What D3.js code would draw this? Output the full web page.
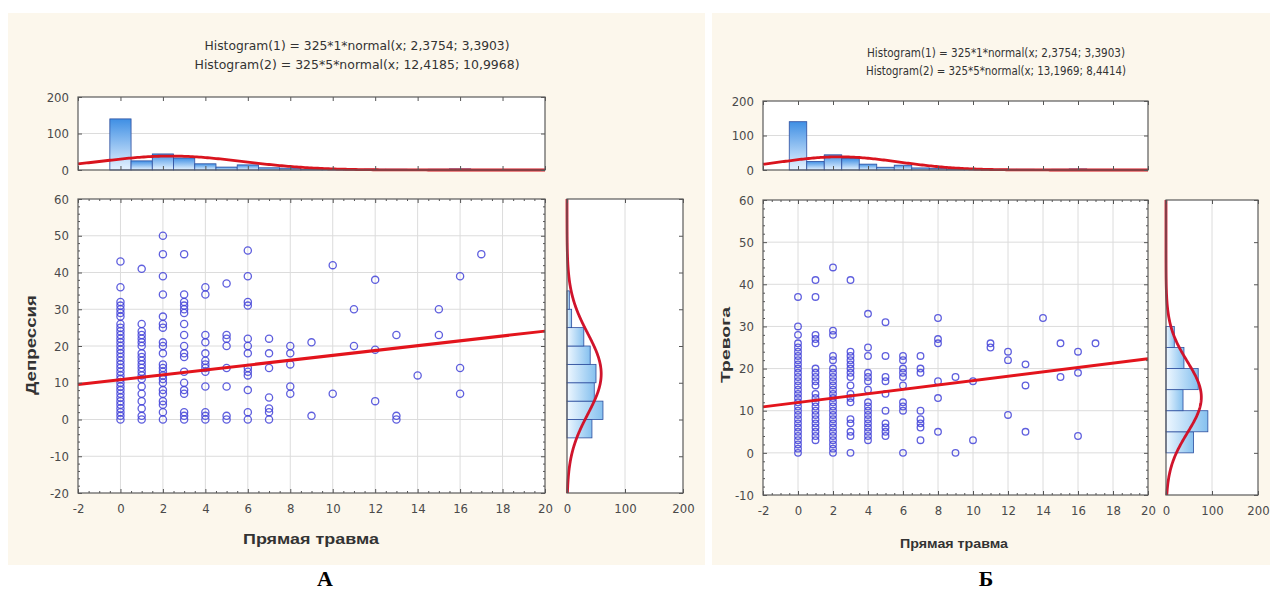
<!DOCTYPE html>
<html>
<head>
<meta charset="utf-8">
<script src="https://cdn.jsdelivr.net/npm/d3@7"></script>
<style>
  body { margin: 0; background: #ffffff; }
  svg { display: block; }
  .tick text { font-family: "Liberation Sans Narrow", "DejaVu Sans Condensed", "Liberation Sans", sans-serif; font-size: 13px; fill: #4a4a4a; }
  .tick line { stroke: #555; }
</style>
</head>
<body>
<svg id="chart" width="1273" height="593"></svg>
<script>
// ---- data ----------------------------------------------------------------
// Прямая травма: number of respondents for each score 0..17
const traumaScores = [0, 1, 2, 3, 4, 5, 6, 7, 8, 9, 10, 11, 12, 13, 14, 15, 16, 17];
const traumaCounts = [140, 25, 44, 33, 17, 8, 14, 6, 5, 1, 2, 1, 2, 2, 1, 2, 3, 1];

// Депрессия: histogram bins of width 5 (lower edges) and counts
const depressionBins = [-5, 0, 5, 10, 15, 20, 25, 30];
const depressionCounts = [43, 62, 47, 50, 40, 29, 8, 4];

// Тревога: histogram bins of width 5 (lower edges) and counts
const anxietyBins = [0, 5, 10, 15, 20, 25];
const anxietyCounts = [60, 91, 37, 70, 39, 18];

// Individual scores, grouped by Прямая травма value
const depressionByTrauma = [
  [0, [0,1,2,3,4,5,6,7,8,9,10,11,12,13,14,15,16,17,18,19,20,21,22,23,24,25,26,28,29,30,31,32,36,43]],
  [1, [0,1,3,5,7,9,11,12,13,14,15,16,17,18,20,21,22,23,24,26,41]],
  [2, [0,2,4,5,7,8,10,11,12,13,14,15,18,20,21,25,26,28,34,39,45,50]],
  [3, [0,1,2,7,8,10,13,17,18,20,23,26,29,30,31,32,34,45]],
  [4, [0,1,2,9,13,14,15,16,18,21,23,34,36]],
  [5, [0,1,9,14,20,22,23,37]],
  [6, [0,2,8,12,13,14,18,20,22,31,32,39,46]],
  [7, [0,2,3,6,14,18,22]],
  [8, [7,9,15,18,20]],
  [9, [1,21]],
  [10, [7,42]],
  [11, [20,30]],
  [12, [5,19,38]],
  [13, [0,1,23]],
  [14, [12]],
  [15, [23,30]],
  [16, [7,14,39]],
  [17, [45]]
];

const anxietyByTrauma = [
  [0, [0,1,2,3,4,5,6,7,8,9,10,11,12,13,14,15,16,17,18,19,20,21,22,23,24,25,26,28,30,37]],
  [1, [3,4,5,6,7,8,9,10,11,12,13,14,16,17,18,19,20,26,27,28,37,41]],
  [2, [0,1,2,3,4,5,6,7,8,9,10,11,12,13,14,15,16,17,18,19,20,22,23,28,29,44]],
  [3, [0,4,5,7,8,12,13,14,16,18,19,20,21,22,23,24,41]],
  [4, [3,4,5,6,7,8,9,10,11,12,15,17,18,19,23,25,33]],
  [5, [4,5,6,7,10,14,17,18,23,31]],
  [6, [0,10,11,12,16,18,19,20,22,23]],
  [7, [3,6,7,8,10,19,20,23]],
  [8, [5,13,17,26,27,32]],
  [9, [0,18]],
  [10, [3,17]],
  [11, [25,26]],
  [12, [9,22,24]],
  [13, [5,16,21]],
  [14, [32]],
  [15, [18,26]],
  [16, [4,19,24]],
  [17, [26]]
];

// Tick values
const traumaTicks = [-2, 0, 2, 4, 6, 8, 10, 12, 14, 16, 18, 20];
const depressionTicks = [-20, -10, 0, 10, 20, 30, 40, 50, 60];
const anxietyTicks = [-10, 0, 10, 20, 30, 40, 50, 60];
const countTicks = [0, 100, 200];

// Fitted normal curves and linear fits
const traumaFit = { n: 325, width: 1, mean: 2.3754, sd: 3.3903 };
const depressionFit = { n: 325, width: 5, mean: 12.4185, sd: 10.9968 };
const anxietyFit = { n: 325, width: 5, mean: 13.1969, sd: 8.4414 };
const depressionLine = { intercept: 10.85, slope: 0.66 };
const anxietyLine = { intercept: 11.95, slope: 0.52 };

// ---- drawing -------------------------------------------------------------
const svg = d3.select("#chart");
const defs = svg.append("defs");

const gv = defs.append("linearGradient").attr("id", "barV")
  .attr("x1", 0).attr("y1", 0).attr("x2", 0).attr("y2", 1);
gv.append("stop").attr("offset", "0%").attr("stop-color", "#3f8fe4");
gv.append("stop").attr("offset", "100%").attr("stop-color", "#e6f3ff");

const gh = defs.append("linearGradient").attr("id", "barH")
  .attr("x1", 0).attr("y1", 0).attr("x2", 1).attr("y2", 0);
gh.append("stop").attr("offset", "0%").attr("stop-color", "#eef7ff");
gh.append("stop").attr("offset", "100%").attr("stop-color", "#86c1ef");

const fontNarrow = "'Liberation Sans Narrow', 'DejaVu Sans Condensed', 'Liberation Sans', sans-serif";
const fontBold = "'Liberation Sans', Arial, sans-serif";
const plain = d => String(d);   // hyphen-minus for negative ticks

function normalPdf(v, m, s) {
  return Math.exp(-((v - m) * (v - m)) / (2 * s * s)) / (s * Math.sqrt(2 * Math.PI));
}

function stripDomain(sel) { sel.select(".domain").remove(); }

function drawPanel(cfg) {
  const g = svg.append("g");

  // panel background
  g.append("rect")
    .attr("x", cfg.bg[0]).attr("y", cfg.bg[1])
    .attr("width", cfg.bg[2]).attr("height", cfg.bg[3])
    .attr("fill", "#fcf7ec");

  const x = d3.scaleLinear().domain([-2, 20]).range([cfg.sx0, cfg.sx1]);
  const y = d3.scaleLinear().domain(cfg.yDomain).range([cfg.sy1, cfg.sy0]);
  const hy = d3.scaleLinear().domain([0, 200]).range([cfg.hy1, cfg.hy0]);
  const mx = d3.scaleLinear().domain([0, 200]).range([cfg.mx0, cfg.mx1]);

  // titles
  cfg.titles.forEach((t, i) => {
    g.append("text")
      .attr("x", cfg.titleX).attr("y", cfg.titleY[i])
      .attr("text-anchor", "middle")
      .attr("font-family", fontNarrow)
      .attr("font-size", cfg.titleSize)
      .attr("fill", "#333")
      .attr("textLength", cfg.titleLen[i])
      .attr("lengthAdjust", "spacingAndGlyphs")
      .text(t);
  });

  // plot areas
  [[cfg.sx0, cfg.sy0, cfg.sx1 - cfg.sx0, cfg.sy1 - cfg.sy0],
   [cfg.sx0, cfg.hy0, cfg.sx1 - cfg.sx0, cfg.hy1 - cfg.hy0],
   [cfg.mx0, cfg.sy0, cfg.mx1 - cfg.mx0, cfg.sy1 - cfg.sy0]].forEach(r => {
    g.append("rect").attr("x", r[0]).attr("y", r[1]).attr("width", r[2]).attr("height", r[3])
      .attr("fill", "#ffffff");
  });

  // ---- top histogram (Прямая травма)
  g.append("line")
    .attr("x1", cfg.sx0).attr("x2", cfg.sx1)
    .attr("y1", hy(100)).attr("y2", hy(100))
    .attr("stroke", "#dcdcdc");
  g.append("g").selectAll("rect").data(traumaScores).join("rect")
    .attr("x", (d) => x(d - 0.5))
    .attr("width", x(1) - x(0))
    .attr("y", (d, i) => hy(traumaCounts[i]))
    .attr("height", (d, i) => hy(0) - hy(traumaCounts[i]))
    .attr("fill", "url(#barV)")
    .attr("stroke", "#2d4e9e").attr("stroke-width", 0.8);
  const topCurve = d3.line()
    .x(d => x(d))
    .y(d => hy(traumaFit.n * traumaFit.width * normalPdf(d, traumaFit.mean, traumaFit.sd)));
  g.append("path").datum(d3.range(-2, 20.001, 0.1))
    .attr("d", topCurve).attr("fill", "none")
    .attr("stroke", "#d9141e").attr("stroke-width", 2.8);

  // ---- marginal histogram (score on the vertical axis)
  g.append("line")
    .attr("x1", mx(100)).attr("x2", mx(100))
    .attr("y1", cfg.sy0).attr("y2", cfg.sy1)
    .attr("stroke", "#dcdcdc");
  g.append("g").selectAll("rect").data(cfg.bins).join("rect")
    .attr("x", mx(0))
    .attr("y", d => y(d + 5))
    .attr("height", d => y(d) - y(d + 5))
    .attr("width", (d, i) => mx(cfg.counts[i]) - mx(0))
    .attr("fill", "url(#barH)")
    .attr("stroke", "#2d4e9e").attr("stroke-width", 0.8);
  const margCurve = d3.line()
    .y(d => y(d))
    .x(d => mx(cfg.fit.n * cfg.fit.width * normalPdf(d, cfg.fit.mean, cfg.fit.sd)));
  g.append("path").datum(d3.range(cfg.yDomain[0], cfg.yDomain[1] + 0.001, 0.25))
    .attr("d", margCurve).attr("fill", "none")
    .attr("stroke", "#d0142c").attr("stroke-width", 2.8);

  // ---- scatter grid
  g.append("g").selectAll("line").data(traumaTicks.slice(1, -1)).join("line")
    .attr("x1", d => x(d)).attr("x2", d => x(d))
    .attr("y1", cfg.sy0).attr("y2", cfg.sy1)
    .attr("stroke", "#dcdcdc");
  g.append("g").selectAll("line").data(cfg.yTicks.slice(1, -1)).join("line")
    .attr("y1", d => y(d)).attr("y2", d => y(d))
    .attr("x1", cfg.sx0).attr("x2", cfg.sx1)
    .attr("stroke", "#dcdcdc");

  // ---- scatter points
  const pts = cfg.points.flatMap(([tx, vals]) => vals.map(v => [tx, v]));
  g.append("g").selectAll("circle").data(pts).join("circle")
    .attr("cx", d => x(d[0])).attr("cy", d => y(d[1]))
    .attr("r", cfg.r)
    .attr("fill", "none")
    .attr("stroke", "#4343d8").attr("stroke-opacity", 0.85)
    .attr("stroke-width", 1.3);

  // ---- regression line
  g.append("line")
    .attr("x1", x(-2)).attr("y1", y(cfg.line.intercept + cfg.line.slope * -2))
    .attr("x2", x(20)).attr("y2", y(cfg.line.intercept + cfg.line.slope * 20))
    .attr("stroke", "#e3141c").attr("stroke-width", 3);

  // ---- axes (ticks point inward)
  const minorX = d3.range(-2, 20.001, 0.5).filter(v => v % 2 !== 0);
  const minorY = d3.range(cfg.yDomain[0], cfg.yDomain[1] + 0.001, 2).filter(v => v % 10 !== 0);

  // scatter bottom + top
  g.append("g").attr("transform", `translate(0,${cfg.sy1})`)
    .call(d3.axisBottom(x).tickValues(traumaTicks).tickFormat(plain)
      .tickSizeInner(-4).tickSizeOuter(0).tickPadding(11)).call(stripDomain);
  g.append("g").attr("transform", `translate(0,${cfg.sy1})`)
    .call(d3.axisBottom(x).tickValues(minorX).tickFormat("").tickSizeInner(-2).tickSizeOuter(0)).call(stripDomain);
  g.append("g").attr("transform", `translate(0,${cfg.sy0})`)
    .call(d3.axisTop(x).tickValues(traumaTicks).tickFormat("").tickSizeInner(-4).tickSizeOuter(0)).call(stripDomain);
  g.append("g").attr("transform", `translate(0,${cfg.sy0})`)
    .call(d3.axisTop(x).tickValues(minorX).tickFormat("").tickSizeInner(-2).tickSizeOuter(0)).call(stripDomain);
  // scatter left + right
  g.append("g").attr("transform", `translate(${cfg.sx0},0)`)
    .call(d3.axisLeft(y).tickValues(cfg.yTicks).tickFormat(plain)
      .tickSizeInner(-4).tickSizeOuter(0).tickPadding(9)).call(stripDomain);
  g.append("g").attr("transform", `translate(${cfg.sx0},0)`)
    .call(d3.axisLeft(y).tickValues(minorY).tickFormat("").tickSizeInner(-2).tickSizeOuter(0)).call(stripDomain);
  g.append("g").attr("transform", `translate(${cfg.sx1},0)`)
    .call(d3.axisRight(y).tickValues(cfg.yTicks).tickFormat("").tickSizeInner(-4).tickSizeOuter(0)).call(stripDomain);
  g.append("g").attr("transform", `translate(${cfg.sx1},0)`)
    .call(d3.axisRight(y).tickValues(minorY).tickFormat("").tickSizeInner(-2).tickSizeOuter(0)).call(stripDomain);

  // top histogram axes
  g.append("g").attr("transform", `translate(${cfg.sx0},0)`)
    .call(d3.axisLeft(hy).tickValues(countTicks).tickFormat(plain)
      .tickSizeInner(-4).tickSizeOuter(0).tickPadding(9)).call(stripDomain);
  g.append("g").attr("transform", `translate(${cfg.sx1},0)`)
    .call(d3.axisRight(hy).tickValues(countTicks).tickFormat("").tickSizeInner(-4).tickSizeOuter(0)).call(stripDomain);
  g.append("g").attr("transform", `translate(0,${cfg.hy0})`)
    .call(d3.axisTop(x).tickValues(traumaTicks).tickFormat("").tickSizeInner(-4).tickSizeOuter(0)).call(stripDomain);
  g.append("g").attr("transform", `translate(0,${cfg.hy1})`)
    .call(d3.axisBottom(x).tickValues(traumaTicks).tickFormat("").tickSizeInner(-4).tickSizeOuter(0)).call(stripDomain);

  // marginal histogram axes
  g.append("g").attr("transform", `translate(0,${cfg.sy1})`)
    .call(d3.axisBottom(mx).tickValues(countTicks).tickFormat(plain)
      .tickSizeInner(-4).tickSizeOuter(0).tickPadding(11)).call(stripDomain);
  g.append("g").attr("transform", `translate(0,${cfg.sy0})`)
    .call(d3.axisTop(mx).tickValues(countTicks).tickFormat("").tickSizeInner(-4).tickSizeOuter(0)).call(stripDomain);
  g.append("g").attr("transform", `translate(${cfg.mx1},0)`)
    .call(d3.axisRight(y).tickValues(cfg.yTicks).tickFormat("").tickSizeInner(-4).tickSizeOuter(0)).call(stripDomain);

  // frames
  [[cfg.sx0, cfg.sy0, cfg.sx1 - cfg.sx0, cfg.sy1 - cfg.sy0],
   [cfg.sx0, cfg.hy0, cfg.sx1 - cfg.sx0, cfg.hy1 - cfg.hy0],
   [cfg.mx0, cfg.sy0, cfg.mx1 - cfg.mx0, cfg.sy1 - cfg.sy0]].forEach(r => {
    g.append("rect").attr("x", r[0]).attr("y", r[1]).attr("width", r[2]).attr("height", r[3])
      .attr("fill", "none").attr("stroke", "#5a5a5a").attr("stroke-width", 1.2);
  });

  // axis titles
  g.append("text")
    .attr("x", cfg.xTitle[0]).attr("y", cfg.xTitle[1])
    .attr("text-anchor", "middle")
    .attr("font-family", fontBold).attr("font-weight", "bold")
    .attr("font-size", cfg.axisTitleSize).attr("fill", "#333")
    .attr("textLength", cfg.xTitle[2]).attr("lengthAdjust", "spacingAndGlyphs")
    .text("Прямая травма");
  g.append("text")
    .attr("transform", `translate(${cfg.yTitle[0]},${cfg.yTitle[1]}) rotate(-90)`)
    .attr("text-anchor", "middle")
    .attr("font-family", fontBold).attr("font-weight", "bold")
    .attr("font-size", cfg.axisTitleSize).attr("fill", "#333")
    .attr("textLength", cfg.yTitle[2]).attr("lengthAdjust", "spacingAndGlyphs")
    .text(cfg.yLabel);

  // panel letter
  g.append("text")
    .attr("x", cfg.letter[0]).attr("y", cfg.letter[1])
    .attr("text-anchor", "middle")
    .attr("font-family", "'Liberation Serif', 'Times New Roman', serif")
    .attr("font-weight", "bold").attr("font-size", 22).attr("fill", "#000")
    .text(cfg.letterText);
}

drawPanel({
  bg: [8, 13, 697, 552],
  sx0: 78, sx1: 545, sy0: 199, sy1: 493,
  hy0: 97, hy1: 170,
  mx0: 567, mx1: 683,
  yDomain: [-20, 60], yTicks: depressionTicks,
  bins: depressionBins, counts: depressionCounts, fit: depressionFit,
  points: depressionByTrauma, line: depressionLine, r: 3.6,
  titles: ["Histogram(1) = 325*1*normal(x; 2,3754; 3,3903)",
           "Histogram(2) = 325*5*normal(x; 12,4185; 10,9968)"],
  titleX: 357, titleY: [50, 69], titleLen: [305, 325], titleSize: 13,
  xTitle: [311, 544, 136], yTitle: [36, 345, 100], axisTitleSize: 14,
  yLabel: "Депрессия",
  letter: [325, 586], letterText: "А"
});

drawPanel({
  bg: [712, 13, 558, 552],
  sx0: 763, sx1: 1148, sy0: 200, sy1: 495,
  hy0: 101, hy1: 170,
  mx0: 1166, mx1: 1258,
  yDomain: [-10, 60], yTicks: anxietyTicks,
  bins: anxietyBins, counts: anxietyCounts, fit: anxietyFit,
  points: anxietyByTrauma, line: anxietyLine, r: 3.3,
  titles: ["Histogram(1) = 325*1*normal(x; 2,3754; 3,3903)",
           "Histogram(2) = 325*5*normal(x; 13,1969; 8,4414)"],
  titleX: 996, titleY: [57, 75], titleLen: [258, 260], titleSize: 11.5,
  xTitle: [954, 548, 108], yTitle: [730, 345, 76], axisTitleSize: 12,
  yLabel: "Тревога",
  letter: [986, 586], letterText: "Б"
});
</script>
</body>
</html>
